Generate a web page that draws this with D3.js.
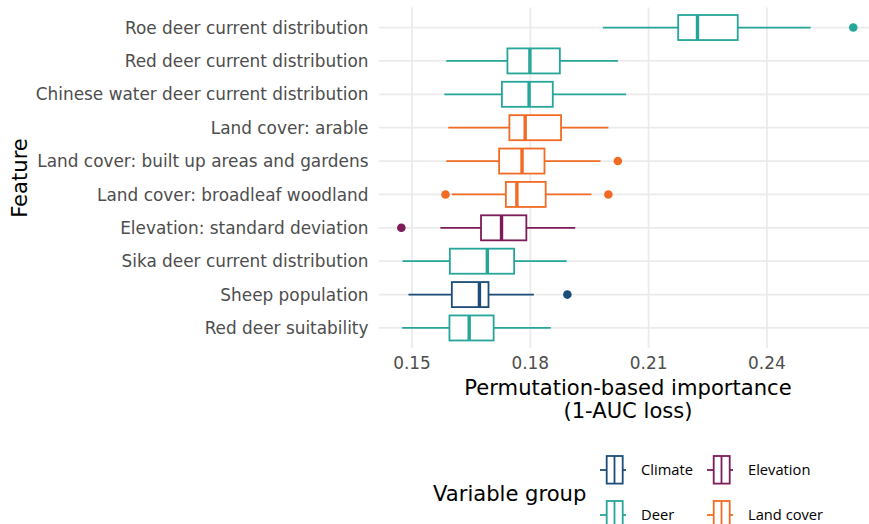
<!DOCTYPE html>
<html><head><meta charset="utf-8">
<script src="https://cdn.jsdelivr.net/npm/d3@7"></script>
<style>body{margin:0;background:#fff}svg{display:block}
.dv{font-family:"DejaVu Sans",Verdana,sans-serif}
.os{font-family:"Open Sans","Noto Sans",sans-serif}</style>
</head><body><svg id="c" width="869" height="524"></svg>
<script>
const features = ["Roe deer current distribution","Red deer current distribution","Chinese water deer current distribution","Land cover: arable","Land cover: built up areas and gardens","Land cover: broadleaf woodland","Elevation: standard deviation","Sika deer current distribution","Sheep population","Red deer suitability"];
const groups = ["Deer","Deer","Deer","Land cover","Land cover","Land cover","Elevation","Deer","Climate","Deer"];
const whiskerLow = [0.1984,0.1587,0.1582,0.1592,0.1587,0.1601,0.1572,0.1476,0.1491,0.1475];
const q1 =        [0.2175,0.1742,0.1728,0.1747,0.1721,0.1738,0.1675,0.1596,0.1601,0.1595];
const median =    [0.2224,0.1799,0.1797,0.1787,0.1779,0.1766,0.1727,0.1691,0.1671,0.1645];
const q3 =        [0.2326,0.1875,0.1857,0.1878,0.1836,0.1839,0.1790,0.1759,0.1694,0.1707];
const whiskerHigh=[0.2511,0.2022,0.2043,0.1998,0.1978,0.1955,0.1914,0.1892,0.1809,0.1852];
const outliers = [[0.2619],[],[],[],[0.2022],[0.1585,0.1998],[0.1473],[],[0.1894],[]];
const xTicks = [0.15,0.18,0.21,0.24];
const legendGroups = ["Climate","Elevation","Deer","Land cover"];
const groupColors = ["#1c4d78","#7c1c58","#26a69a","#f26b24"];

const svg = d3.select("#c");
const color = d3.scaleOrdinal().domain(legendGroups).range(groupColors);
const x = d3.scaleLinear().domain([0.15,0.24]).range([412,766.9]);
const panel = {left:379, right:869, top:7.5, bottom:348};
const yc = d3.scalePoint().domain(features).range([panel.top+0.6*33.4, panel.bottom-0.6*33.4]);
const step = yc.step();
const grid = svg.append("g");
grid.selectAll("line.v").data(xTicks).join("line")
  .attr("x1",d=>x(d)).attr("x2",d=>x(d)).attr("y1",panel.top).attr("y2",panel.bottom)
  .attr("stroke","#ebebeb").attr("stroke-width",1.8);
grid.selectAll("line.h").data(features).join("line")
  .attr("x1",panel.left).attr("x2",panel.right).attr("y1",d=>yc(d)).attr("y2",d=>yc(d))
  .attr("stroke","#ebebeb").attr("stroke-width",1.8);

const data = features.map((f,i)=>({f,g:groups[i],lo:whiskerLow[i],q1:q1[i],med:median[i],q3:q3[i],hi:whiskerHigh[i],out:outliers[i]}));
const bh = step*0.75;
const boxes = svg.append("g").selectAll("g").data(data).join("g");
boxes.append("line").attr("x1",d=>x(d.lo)).attr("x2",d=>x(d.q1)).attr("y1",d=>yc(d.f)).attr("y2",d=>yc(d.f)).attr("stroke",d=>color(d.g)).attr("stroke-width",1.8);
boxes.append("line").attr("x1",d=>x(d.q3)).attr("x2",d=>x(d.hi)).attr("y1",d=>yc(d.f)).attr("y2",d=>yc(d.f)).attr("stroke",d=>color(d.g)).attr("stroke-width",1.8);
boxes.append("rect").attr("x",d=>x(d.q1)).attr("width",d=>x(d.q3)-x(d.q1)).attr("y",d=>yc(d.f)-bh/2).attr("height",bh)
  .attr("fill","#fff").attr("stroke",d=>color(d.g)).attr("stroke-width",1.8);
boxes.append("line").attr("x1",d=>x(d.med)).attr("x2",d=>x(d.med)).attr("y1",d=>yc(d.f)-bh/2).attr("y2",d=>yc(d.f)+bh/2).attr("stroke",d=>color(d.g)).attr("stroke-width",3.4);
boxes.selectAll("circle").data(d=>d.out.map(v=>({v,d}))).join("circle")
  .attr("cx",o=>x(o.v)).attr("cy",o=>yc(o.d.f)).attr("r",4.3).attr("fill",o=>color(o.d.g));

svg.append("g").selectAll("text").data(features).join("text").attr("class","dv")
  .attr("x",368.5).attr("y",d=>yc(d)).attr("dy","0.36em").attr("text-anchor","end")
  .attr("font-size",16.9).attr("fill","#4d4d4d").text(d=>d);
svg.append("g").selectAll("text").data(xTicks).join("text").attr("class","dv")
  .attr("x",d=>x(d)).attr("y",363).attr("dy","0.36em").attr("text-anchor","middle")
  .attr("font-size",16.9).attr("fill","#4d4d4d").text(d=>d3.format(".2f")(d));
svg.append("text").attr("class","dv").attr("x",628).attr("y",387).attr("dy","0.36em").attr("text-anchor","middle")
  .attr("font-size",21.1).attr("fill","#000").text("Permutation-based importance");
svg.append("text").attr("class","dv").attr("x",628).attr("y",410).attr("dy","0.36em").attr("text-anchor","middle")
  .attr("font-size",21.1).attr("fill","#000").text("(1-AUC loss)");
svg.append("text").attr("class","dv").attr("transform","translate(19,178) rotate(-90)").attr("dy","0.36em").attr("text-anchor","middle")
  .attr("font-size",21.1).attr("fill","#000").text("Feature");

svg.append("text").attr("class","dv").attr("x",433).attr("y",493).attr("dy","0.36em")
  .attr("font-size",21.1).attr("fill","#000").text("Variable group");
const legPos = [[600,470],[707,470],[600,515],[707,515]];
const lg = svg.append("g").selectAll("g").data(legendGroups).join("g")
  .attr("transform",(d,i)=>`translate(${legPos[i][0]},${legPos[i][1]})`);
lg.append("line").attr("x1",0).attr("x2",26).attr("y1",0).attr("y2",0).attr("stroke",d=>color(d)).attr("stroke-width",1.8);
lg.append("rect").attr("x",6.7).attr("y",-14).attr("width",16).attr("height",27.6).attr("fill","#fff").attr("stroke",d=>color(d)).attr("stroke-width",1.8);
lg.append("line").attr("x1",14.5).attr("x2",14.5).attr("y1",-14).attr("y2",13.6).attr("stroke",d=>color(d)).attr("stroke-width",1.8);
lg.append("text").attr("class","os").attr("x",41).attr("y",0).attr("dy","0.36em").attr("font-size",14.7).attr("fill","#000").text(d=>d);
</script></body></html>
